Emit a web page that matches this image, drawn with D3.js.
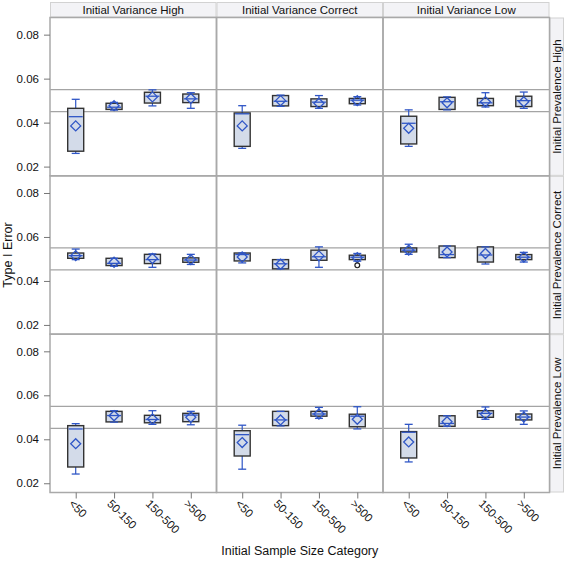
<!DOCTYPE html>
<html>
<head>
<meta charset="utf-8">
<script src="https://cdn.jsdelivr.net/npm/d3@7"></script>
<style>
  html, body { margin: 0; padding: 0; background: #fff; }
  svg { display: block; font-family: "Liberation Sans", Arial, sans-serif; }
</style>
</head>
<body>
<svg id="chart" width="567" height="563"></svg>
<script>
// ---------- data ----------
const categories = ["<50", "50-150", "150-500", ">500"];
const columnLabels = ["Initial Variance High", "Initial Variance Correct", "Initial Variance Low"];
const rowLabels = ["Initial Prevalence High", "Initial Prevalence Correct", "Initial Prevalence Low"];
const yTicks = [0.02, 0.04, 0.06, 0.08];
const refLines = [0.045, 0.055];

// panels in row-major order: rows = prevalence, columns = variance
const whiskerLow = [
  [0.0260, 0.0457, 0.0476, 0.0465],
  [0.0283, 0.0474, 0.0465, 0.0480],
  [0.0292, 0.0458, 0.0471, 0.0465],
  [0.0497, 0.0467, 0.0462, 0.0475],
  [0.0482, 0.0455, 0.0462, 0.0490],
  [0.0521, 0.0506, 0.0477, 0.0486],
  [0.0242, 0.0478, 0.0468, 0.0466],
  [0.0264, 0.0461, 0.0495, 0.0447],
  [0.0297, 0.0459, 0.0491, 0.0468]
];
const q1 = [
  [0.0270, 0.0460, 0.0489, 0.0491],
  [0.0292, 0.0476, 0.0473, 0.0486],
  [0.0303, 0.0460, 0.0477, 0.0473],
  [0.0503, 0.0470, 0.0479, 0.0485],
  [0.0491, 0.0455, 0.0494, 0.0497],
  [0.0532, 0.0506, 0.0486, 0.0497],
  [0.0274, 0.0479, 0.0475, 0.0480],
  [0.0324, 0.0462, 0.0505, 0.0457],
  [0.0315, 0.0459, 0.0500, 0.0488]
];
const median = [
  [0.0427, 0.0470, 0.0520, 0.0508],
  [0.0440, 0.0497, 0.0493, 0.0502],
  [0.0397, 0.0495, 0.0490, 0.0500],
  [0.0515, 0.0480, 0.0497, 0.0495],
  [0.0520, 0.0478, 0.0510, 0.0508],
  [0.0540, 0.0520, 0.0518, 0.0508],
  [0.0447, 0.0508, 0.0490, 0.0510],
  [0.0421, 0.0488, 0.0515, 0.0505],
  [0.0432, 0.0472, 0.0518, 0.0501]
];
const q3 = [
  [0.0465, 0.0488, 0.0538, 0.0530],
  [0.0444, 0.0523, 0.0508, 0.0510],
  [0.0429, 0.0515, 0.0510, 0.0520],
  [0.0527, 0.0503, 0.0521, 0.0505],
  [0.0527, 0.0497, 0.0540, 0.0517],
  [0.0550, 0.0559, 0.0555, 0.0520],
  [0.0462, 0.0527, 0.0509, 0.0518],
  [0.0439, 0.0527, 0.0527, 0.0514],
  [0.0435, 0.0507, 0.0530, 0.0515]
];
const whiskerHigh = [
  [0.0506, 0.0492, 0.0549, 0.0536],
  [0.0477, 0.0525, 0.0523, 0.0518],
  [0.0458, 0.0517, 0.0536, 0.0539],
  [0.0545, 0.0503, 0.0523, 0.0521],
  [0.0527, 0.0497, 0.0555, 0.0525],
  [0.0567, 0.0559, 0.0555, 0.0530],
  [0.0471, 0.0530, 0.0530, 0.0527],
  [0.0464, 0.0527, 0.0545, 0.0548],
  [0.0468, 0.0507, 0.0547, 0.0529]
];
const meanValue = [
  [0.0385, 0.0477, 0.0517, 0.0510],
  [0.0385, 0.0500, 0.0488, 0.0500],
  [0.0374, 0.0490, 0.0495, 0.0495],
  [0.0515, 0.0485, 0.0502, 0.0497],
  [0.0509, 0.0476, 0.0514, 0.0506],
  [0.0540, 0.0532, 0.0525, 0.0508],
  [0.0380, 0.0507, 0.0492, 0.0500],
  [0.0385, 0.0488, 0.0515, 0.0491],
  [0.0388, 0.0480, 0.0515, 0.0501]
];
// outliers: [panelIndex, categoryIndex, value]
const outliers = [
  [4, 3, 0.0471]
];

// ---------- layout ----------
const svg = d3.select("#chart");
const plotLeft = 50, plotRight = 549.5, plotTop = 17.5, plotBottom = 492.5;
const headerTop = 2;
const stripRight = 564;
const nCols = 3, nRows = 3;
const colW = (plotRight - plotLeft) / nCols;
const rowH = (plotBottom - plotTop) / nRows;

const colors = {
  frame: "#a9a9a9",
  ref: "#a4a4a4",
  boxFill: "#d3dbe9",
  boxStroke: "#333333",
  blue: "#2f56c6",
  header: "#f3f3f6",
  headerStroke: "#d2d2d2",
  text: "#111"
};

const yDomain = [0.0158, 0.0878];

// header strips
columnLabels.forEach((lab, c) => {
  const x0 = plotLeft + c * colW;
  svg.append("rect").attr("x", x0 + 0.5).attr("y", headerTop + 0.5)
    .attr("width", colW - 1).attr("height", plotTop - headerTop - 1)
    .attr("fill", colors.header).attr("stroke", colors.headerStroke);
  svg.append("text").attr("x", x0 + colW / 2).attr("y", plotTop - 4)
    .attr("text-anchor", "middle").attr("font-size", 11.5).attr("fill", colors.text)
    .text(lab);
});
rowLabels.forEach((lab, r) => {
  const y0 = plotTop + r * rowH;
  svg.append("rect").attr("x", plotRight + 0.5).attr("y", y0 + 0.5)
    .attr("width", stripRight - plotRight - 1).attr("height", rowH - 1)
    .attr("fill", colors.header).attr("stroke", colors.headerStroke);
  svg.append("text")
    .attr("transform", `translate(${plotRight + (stripRight - plotRight) / 2 + 4},${y0 + rowH / 2}) rotate(-90)`)
    .attr("text-anchor", "middle").attr("font-size", 11.5).attr("fill", colors.text)
    .text(lab);
});

// panels
for (let r = 0; r < nRows; r++) {
  for (let c = 0; c < nCols; c++) {
    const p = r * nCols + c;
    const x0 = plotLeft + c * colW, y0 = plotTop + r * rowH;
    const x = d3.scalePoint().domain(categories).range([x0, x0 + colW]).padding(0.67);
    const y = d3.scaleLinear().domain(yDomain).range([y0 + rowH, y0]);
    const g = svg.append("g");

    // reference lines
    g.selectAll("line.ref").data(refLines).join("line")
      .attr("x1", x0).attr("x2", x0 + colW)
      .attr("y1", d => y(d)).attr("y2", d => y(d))
      .attr("stroke", colors.ref).attr("stroke-width", 1.3);

    const boxW = 16, capW = 8, dia = 5;
    const stats = categories.map((cat, i) => ({
      cat, lo: whiskerLow[p][i], q1: q1[p][i], med: median[p][i],
      q3: q3[p][i], hi: whiskerHigh[p][i], mean: meanValue[p][i]
    }));

    const b = g.selectAll("g.box").data(stats).join("g").attr("class", "box");
    // whiskers
    b.append("line").attr("x1", d => x(d.cat)).attr("x2", d => x(d.cat))
      .attr("y1", d => y(d.hi)).attr("y2", d => y(d.q3))
      .attr("stroke", colors.blue).attr("stroke-width", 1.2);
    b.append("line").attr("x1", d => x(d.cat)).attr("x2", d => x(d.cat))
      .attr("y1", d => y(d.lo)).attr("y2", d => y(d.q1))
      .attr("stroke", colors.blue).attr("stroke-width", 1.2);
    // box
    b.append("rect").attr("x", d => x(d.cat) - boxW / 2).attr("width", boxW)
      .attr("y", d => y(d.q3)).attr("height", d => Math.max(1, y(d.q1) - y(d.q3)))
      .attr("fill", colors.boxFill).attr("stroke", colors.boxStroke).attr("stroke-width", 1.4);
    // caps
    b.append("line").attr("x1", d => x(d.cat) - capW / 2).attr("x2", d => x(d.cat) + capW / 2)
      .attr("y1", d => y(d.hi)).attr("y2", d => y(d.hi))
      .attr("stroke", colors.blue).attr("stroke-width", 1.3);
    b.append("line").attr("x1", d => x(d.cat) - capW / 2).attr("x2", d => x(d.cat) + capW / 2)
      .attr("y1", d => y(d.lo)).attr("y2", d => y(d.lo))
      .attr("stroke", colors.blue).attr("stroke-width", 1.3);
    // median
    b.append("line").attr("x1", d => x(d.cat) - boxW / 2 + 1).attr("x2", d => x(d.cat) + boxW / 2 - 1)
      .attr("y1", d => y(d.med)).attr("y2", d => y(d.med))
      .attr("stroke", colors.blue).attr("stroke-width", 1.3);
    // mean diamond
    b.append("path")
      .attr("d", d => {
        const cx = x(d.cat), cy = y(d.mean);
        return `M${cx},${cy - dia}L${cx + dia},${cy}L${cx},${cy + dia}L${cx - dia},${cy}Z`;
      })
      .attr("fill", "none").attr("stroke", colors.blue).attr("stroke-width", 1.3);

    // outliers
    g.selectAll("circle.out").data(outliers.filter(o => o[0] === p)).join("circle")
      .attr("cx", o => x(categories[o[1]])).attr("cy", o => y(o[2])).attr("r", 2.4)
      .attr("fill", "none").attr("stroke", "#222").attr("stroke-width", 1.2);

    // frame
    g.append("rect").attr("x", x0).attr("y", y0).attr("width", colW).attr("height", rowH)
      .attr("fill", "none").attr("stroke", colors.frame).attr("stroke-width", 1.5);

    // y axis on first column
    if (c === 0) {
      const ax = svg.append("g").attr("transform", `translate(${plotLeft},0)`)
        .call(d3.axisLeft(y).tickValues(yTicks).tickFormat(d3.format(".2f")).tickSize(6).tickPadding(5));
      ax.select(".domain").remove();
      ax.selectAll(".tick line").attr("stroke", "#777");
      ax.selectAll(".tick text").attr("font-size", 11.5).attr("fill", colors.text)
        .attr("font-family", "Liberation Sans, Arial, sans-serif");
    }
    // x axis on last row
    if (r === nRows - 1) {
      const ax = svg.append("g").attr("transform", `translate(0,${plotBottom})`)
        .call(d3.axisBottom(x).tickSize(6).tickPadding(4));
      ax.select(".domain").remove();
      ax.selectAll(".tick line").attr("stroke", "#777");
      ax.selectAll(".tick text")
        .attr("font-size", 11.5).attr("fill", colors.text)
        .attr("font-family", "Liberation Sans, Arial, sans-serif")
        .attr("text-anchor", "start")
        .attr("dy", null)
        .attr("transform", "translate(-8,12) rotate(45)")
        .attr("x", 0).attr("y", 0);
    }
  }
}

// axis titles
svg.append("text").attr("x", (plotLeft + plotRight) / 2).attr("y", 555)
  .attr("text-anchor", "middle").attr("font-size", 12.5).attr("fill", colors.text)
  .text("Initial Sample Size Category");
svg.append("text").attr("transform", `translate(12,${(plotTop + plotBottom) / 2}) rotate(-90)`)
  .attr("text-anchor", "middle").attr("font-size", 12.5).attr("fill", colors.text)
  .text("Type I Error");
</script>
</body>
</html>
